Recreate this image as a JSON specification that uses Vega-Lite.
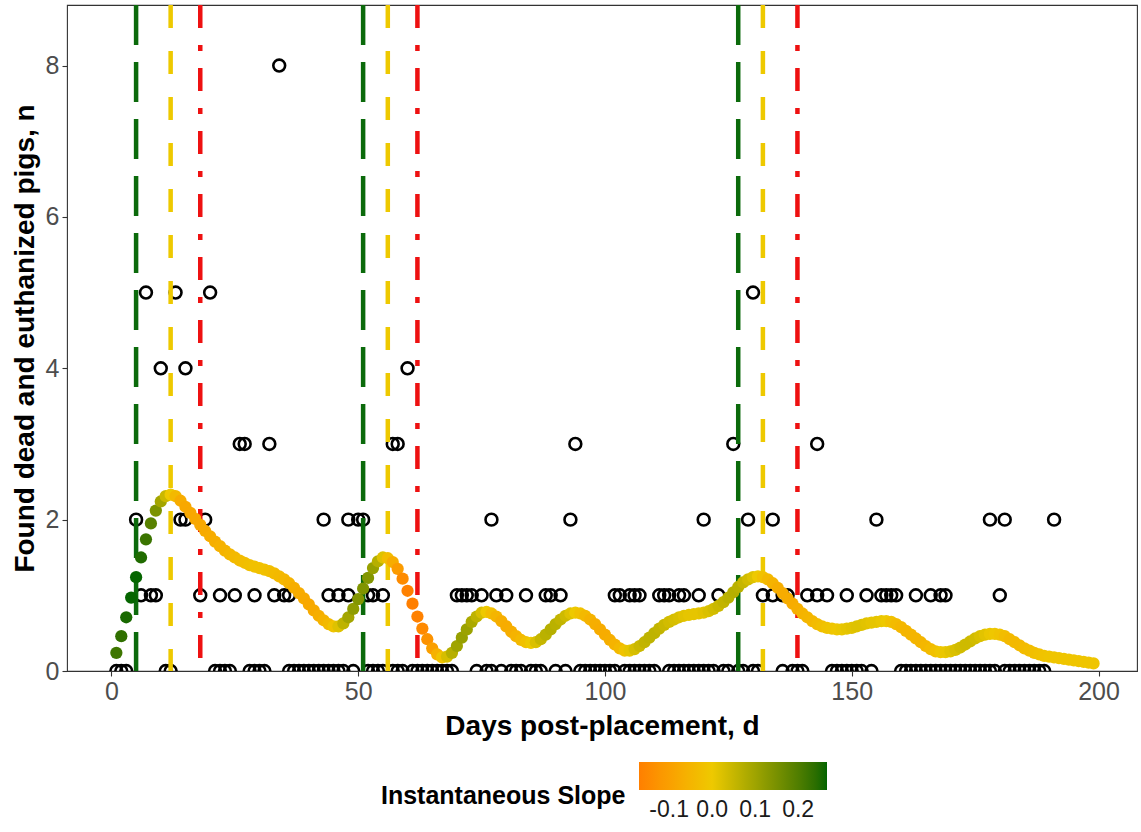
{
  "$schema": "https://vega.github.io/schema/vega-lite/v6.json",
  "width": 1070,
  "height": 666,
  "autosize": {"type": "none"},
  "padding": {"left": 67, "top": 5, "right": 4, "bottom": 161},
  "background": "white",
  "config": {
    "view": {"stroke": "#333333", "strokeWidth": 1.1},
    "font": "Liberation Sans",
    "axis": {
      "grid": false,
      "domain": false,
      "tickColor": "#333333",
      "tickSize": 5,
      "tickWidth": 1.1,
      "labelFont": "Liberation Sans",
      "labelFontSize": 25,
      "labelColor": "#4D4D4D",
      "labelPadding": 3,
      "titleFont": "Liberation Sans",
      "titleFontSize": 28,
      "titleFontWeight": "bold",
      "titleColor": "#000000"
    }
  },
  "datasets": {
    "obs": [
      {"day": 34, "n": 8},
      {"day": 7, "n": 5}, {"day": 13, "n": 5}, {"day": 20, "n": 5}, {"day": 130, "n": 5},
      {"day": 10, "n": 4}, {"day": 15, "n": 4}, {"day": 60, "n": 4},
      {"day": 26, "n": 3}, {"day": 27, "n": 3}, {"day": 32, "n": 3}, {"day": 57, "n": 3}, {"day": 58, "n": 3}, {"day": 94, "n": 3}, {"day": 126, "n": 3}, {"day": 143, "n": 3},
      {"day": 5, "n": 2}, {"day": 14, "n": 2}, {"day": 15, "n": 2}, {"day": 19, "n": 2}, {"day": 43, "n": 2}, {"day": 48, "n": 2}, {"day": 50, "n": 2}, {"day": 51, "n": 2}, {"day": 77, "n": 2}, {"day": 93, "n": 2}, {"day": 120, "n": 2}, {"day": 129, "n": 2}, {"day": 134, "n": 2}, {"day": 155, "n": 2}, {"day": 178, "n": 2}, {"day": 181, "n": 2}, {"day": 191, "n": 2},
      {"day": 6, "n": 1}, {"day": 8, "n": 1}, {"day": 9, "n": 1}, {"day": 18, "n": 1}, {"day": 22, "n": 1}, {"day": 25, "n": 1}, {"day": 29, "n": 1}, {"day": 33, "n": 1}, {"day": 35, "n": 1}, {"day": 36, "n": 1}, {"day": 44, "n": 1}, {"day": 46, "n": 1}, {"day": 48, "n": 1}, {"day": 52, "n": 1}, {"day": 53, "n": 1}, {"day": 55, "n": 1},
      {"day": 70, "n": 1}, {"day": 71, "n": 1}, {"day": 72, "n": 1}, {"day": 73, "n": 1}, {"day": 75, "n": 1}, {"day": 78, "n": 1}, {"day": 80, "n": 1}, {"day": 84, "n": 1}, {"day": 88, "n": 1}, {"day": 89, "n": 1}, {"day": 91, "n": 1},
      {"day": 102, "n": 1}, {"day": 103, "n": 1}, {"day": 105, "n": 1}, {"day": 106, "n": 1}, {"day": 107, "n": 1}, {"day": 111, "n": 1}, {"day": 112, "n": 1}, {"day": 113, "n": 1}, {"day": 115, "n": 1}, {"day": 116, "n": 1}, {"day": 119, "n": 1}, {"day": 123, "n": 1},
      {"day": 132, "n": 1}, {"day": 134, "n": 1}, {"day": 136, "n": 1}, {"day": 137, "n": 1}, {"day": 141, "n": 1}, {"day": 143, "n": 1}, {"day": 145, "n": 1}, {"day": 149, "n": 1}, {"day": 153, "n": 1}, {"day": 156, "n": 1}, {"day": 157, "n": 1}, {"day": 158, "n": 1}, {"day": 159, "n": 1}, {"day": 163, "n": 1}, {"day": 166, "n": 1}, {"day": 168, "n": 1}, {"day": 169, "n": 1}, {"day": 180, "n": 1},
      {"day": 1, "n": 0}, {"day": 2, "n": 0}, {"day": 3, "n": 0}, {"day": 11, "n": 0}, {"day": 12, "n": 0}, {"day": 21, "n": 0}, {"day": 22, "n": 0}, {"day": 23, "n": 0}, {"day": 24, "n": 0}, {"day": 28, "n": 0}, {"day": 29, "n": 0}, {"day": 30, "n": 0}, {"day": 31, "n": 0},
      {"day": 36, "n": 0}, {"day": 37, "n": 0}, {"day": 38, "n": 0}, {"day": 39, "n": 0}, {"day": 40, "n": 0}, {"day": 41, "n": 0}, {"day": 42, "n": 0}, {"day": 43, "n": 0}, {"day": 44, "n": 0}, {"day": 45, "n": 0}, {"day": 46, "n": 0}, {"day": 47, "n": 0}, {"day": 49, "n": 0},
      {"day": 52, "n": 0}, {"day": 53, "n": 0}, {"day": 54, "n": 0}, {"day": 55, "n": 0}, {"day": 57, "n": 0}, {"day": 58, "n": 0}, {"day": 59, "n": 0}, {"day": 61, "n": 0}, {"day": 62, "n": 0}, {"day": 63, "n": 0}, {"day": 64, "n": 0}, {"day": 65, "n": 0}, {"day": 66, "n": 0}, {"day": 67, "n": 0}, {"day": 68, "n": 0}, {"day": 69, "n": 0},
      {"day": 74, "n": 0}, {"day": 76, "n": 0}, {"day": 77, "n": 0}, {"day": 79, "n": 0}, {"day": 81, "n": 0}, {"day": 82, "n": 0}, {"day": 83, "n": 0}, {"day": 85, "n": 0}, {"day": 86, "n": 0}, {"day": 87, "n": 0}, {"day": 90, "n": 0}, {"day": 92, "n": 0}, {"day": 95, "n": 0}, {"day": 96, "n": 0}, {"day": 97, "n": 0}, {"day": 98, "n": 0}, {"day": 99, "n": 0}, {"day": 100, "n": 0}, {"day": 101, "n": 0},
      {"day": 102, "n": 0}, {"day": 104, "n": 0}, {"day": 105, "n": 0}, {"day": 106, "n": 0}, {"day": 107, "n": 0}, {"day": 108, "n": 0}, {"day": 109, "n": 0}, {"day": 110, "n": 0}, {"day": 113, "n": 0}, {"day": 114, "n": 0}, {"day": 115, "n": 0}, {"day": 116, "n": 0}, {"day": 117, "n": 0}, {"day": 118, "n": 0}, {"day": 119, "n": 0}, {"day": 120, "n": 0}, {"day": 121, "n": 0}, {"day": 122, "n": 0}, {"day": 124, "n": 0}, {"day": 125, "n": 0}, {"day": 127, "n": 0}, {"day": 128, "n": 0}, {"day": 130, "n": 0}, {"day": 131, "n": 0},
      {"day": 136, "n": 0}, {"day": 138, "n": 0}, {"day": 139, "n": 0}, {"day": 140, "n": 0}, {"day": 146, "n": 0}, {"day": 147, "n": 0}, {"day": 148, "n": 0}, {"day": 149, "n": 0}, {"day": 150, "n": 0}, {"day": 151, "n": 0}, {"day": 152, "n": 0}, {"day": 154, "n": 0},
      {"day": 160, "n": 0}, {"day": 161, "n": 0}, {"day": 162, "n": 0}, {"day": 163, "n": 0}, {"day": 164, "n": 0}, {"day": 165, "n": 0}, {"day": 166, "n": 0}, {"day": 167, "n": 0}, {"day": 168, "n": 0}, {"day": 169, "n": 0}, {"day": 170, "n": 0}, {"day": 171, "n": 0}, {"day": 172, "n": 0}, {"day": 173, "n": 0}, {"day": 174, "n": 0}, {"day": 175, "n": 0}, {"day": 176, "n": 0}, {"day": 177, "n": 0}, {"day": 178, "n": 0}, {"day": 179, "n": 0},
      {"day": 181, "n": 0}, {"day": 182, "n": 0}, {"day": 183, "n": 0}, {"day": 184, "n": 0}, {"day": 185, "n": 0}, {"day": 186, "n": 0}, {"day": 187, "n": 0}, {"day": 188, "n": 0}, {"day": 189, "n": 0}
    ],
    "events": [
      {"day": 5, "event": "onset"}, {"day": 51, "event": "onset"}, {"day": 127, "event": "onset"},
      {"day": 12, "event": "peak"}, {"day": 56, "event": "peak"}, {"day": 132, "event": "peak"},
      {"day": 18, "event": "end"}, {"day": 62, "event": "end"}, {"day": 139, "event": "end"}
    ],
    "fit": [
      {"day": 1, "fit": 0.24, "slope": 0.22}, {"day": 2, "fit": 0.46, "slope": 0.235}, {"day": 3, "fit": 0.71, "slope": 0.255}, {"day": 4, "fit": 0.97, "slope": 0.265}, {"day": 5, "fit": 1.24, "slope": 0.265},
      {"day": 6, "fit": 1.50, "slope": 0.25}, {"day": 7, "fit": 1.74, "slope": 0.225}, {"day": 8, "fit": 1.95, "slope": 0.19}, {"day": 9, "fit": 2.12, "slope": 0.145}, {"day": 10, "fit": 2.24, "slope": 0.095},
      {"day": 11, "fit": 2.31, "slope": 0.045}, {"day": 12, "fit": 2.33, "slope": 0.0}, {"day": 13, "fit": 2.31, "slope": -0.04}, {"day": 14, "fit": 2.25, "slope": -0.07}, {"day": 15, "fit": 2.17, "slope": -0.08},
      {"day": 16, "fit": 2.09, "slope": -0.08}, {"day": 17, "fit": 2.01, "slope": -0.08}, {"day": 18, "fit": 1.93, "slope": -0.08}, {"day": 19, "fit": 1.85, "slope": -0.075}, {"day": 20, "fit": 1.78, "slope": -0.07},
      {"day": 21, "fit": 1.71, "slope": -0.065}, {"day": 22, "fit": 1.65, "slope": -0.06}, {"day": 23, "fit": 1.59, "slope": -0.055}, {"day": 24, "fit": 1.54, "slope": -0.045}, {"day": 25, "fit": 1.50, "slope": -0.04},
      {"day": 26, "fit": 1.46, "slope": -0.035}, {"day": 27, "fit": 1.43, "slope": -0.03}, {"day": 28, "fit": 1.40, "slope": -0.025}, {"day": 29, "fit": 1.38, "slope": -0.02}, {"day": 30, "fit": 1.36, "slope": -0.02},
      {"day": 31, "fit": 1.34, "slope": -0.02}, {"day": 32, "fit": 1.32, "slope": -0.025}, {"day": 33, "fit": 1.29, "slope": -0.035}, {"day": 34, "fit": 1.25, "slope": -0.04}, {"day": 35, "fit": 1.21, "slope": -0.045},
      {"day": 36, "fit": 1.16, "slope": -0.055}, {"day": 37, "fit": 1.10, "slope": -0.065}, {"day": 38, "fit": 1.03, "slope": -0.07}, {"day": 39, "fit": 0.96, "slope": -0.075}, {"day": 40, "fit": 0.88, "slope": -0.08},
      {"day": 41, "fit": 0.80, "slope": -0.075}, {"day": 42, "fit": 0.73, "slope": -0.065}, {"day": 43, "fit": 0.67, "slope": -0.055}, {"day": 44, "fit": 0.62, "slope": -0.04}, {"day": 45, "fit": 0.59, "slope": -0.015},
      {"day": 46, "fit": 0.59, "slope": 0.02}, {"day": 47, "fit": 0.63, "slope": 0.06}, {"day": 48, "fit": 0.71, "slope": 0.095}, {"day": 49, "fit": 0.82, "slope": 0.12}, {"day": 50, "fit": 0.95, "slope": 0.135},
      {"day": 51, "fit": 1.09, "slope": 0.14}, {"day": 52, "fit": 1.23, "slope": 0.135}, {"day": 53, "fit": 1.36, "slope": 0.11}, {"day": 54, "fit": 1.45, "slope": 0.07}, {"day": 55, "fit": 1.50, "slope": 0.02},
      {"day": 56, "fit": 1.49, "slope": -0.03}, {"day": 57, "fit": 1.44, "slope": -0.07}, {"day": 58, "fit": 1.35, "slope": -0.11}, {"day": 59, "fit": 1.22, "slope": -0.145}, {"day": 60, "fit": 1.06, "slope": -0.165},
      {"day": 61, "fit": 0.89, "slope": -0.17}, {"day": 62, "fit": 0.72, "slope": -0.165}, {"day": 63, "fit": 0.56, "slope": -0.15}, {"day": 64, "fit": 0.42, "slope": -0.13}, {"day": 65, "fit": 0.30, "slope": -0.10},
      {"day": 66, "fit": 0.22, "slope": -0.06}, {"day": 67, "fit": 0.18, "slope": -0.015}, {"day": 68, "fit": 0.19, "slope": 0.03}, {"day": 69, "fit": 0.24, "slope": 0.07}, {"day": 70, "fit": 0.33, "slope": 0.10},
      {"day": 71, "fit": 0.44, "slope": 0.11}, {"day": 72, "fit": 0.55, "slope": 0.105}, {"day": 73, "fit": 0.65, "slope": 0.085}, {"day": 74, "fit": 0.72, "slope": 0.06}, {"day": 75, "fit": 0.77, "slope": 0.03},
      {"day": 76, "fit": 0.78, "slope": 0.0}, {"day": 77, "fit": 0.76, "slope": -0.03}, {"day": 78, "fit": 0.72, "slope": -0.05}, {"day": 79, "fit": 0.66, "slope": -0.065}, {"day": 80, "fit": 0.59, "slope": -0.07},
      {"day": 81, "fit": 0.52, "slope": -0.065}, {"day": 82, "fit": 0.46, "slope": -0.055}, {"day": 83, "fit": 0.41, "slope": -0.04}, {"day": 84, "fit": 0.38, "slope": -0.02}, {"day": 85, "fit": 0.37, "slope": 0.0},
      {"day": 86, "fit": 0.38, "slope": 0.025}, {"day": 87, "fit": 0.42, "slope": 0.05}, {"day": 88, "fit": 0.48, "slope": 0.065}, {"day": 89, "fit": 0.55, "slope": 0.07}, {"day": 90, "fit": 0.62, "slope": 0.065},
      {"day": 91, "fit": 0.68, "slope": 0.055}, {"day": 92, "fit": 0.73, "slope": 0.04}, {"day": 93, "fit": 0.76, "slope": 0.02}, {"day": 94, "fit": 0.77, "slope": 0.0}, {"day": 95, "fit": 0.76, "slope": -0.02},
      {"day": 96, "fit": 0.73, "slope": -0.04}, {"day": 97, "fit": 0.68, "slope": -0.055}, {"day": 98, "fit": 0.62, "slope": -0.065}, {"day": 99, "fit": 0.55, "slope": -0.07}, {"day": 100, "fit": 0.48, "slope": -0.07},
      {"day": 101, "fit": 0.41, "slope": -0.065}, {"day": 102, "fit": 0.35, "slope": -0.055}, {"day": 103, "fit": 0.30, "slope": -0.04}, {"day": 104, "fit": 0.27, "slope": -0.015}, {"day": 105, "fit": 0.27, "slope": 0.01},
      {"day": 106, "fit": 0.29, "slope": 0.03}, {"day": 107, "fit": 0.33, "slope": 0.045}, {"day": 108, "fit": 0.38, "slope": 0.055}, {"day": 109, "fit": 0.44, "slope": 0.06}, {"day": 110, "fit": 0.50, "slope": 0.06},
      {"day": 111, "fit": 0.56, "slope": 0.055}, {"day": 112, "fit": 0.61, "slope": 0.045}, {"day": 113, "fit": 0.65, "slope": 0.035}, {"day": 114, "fit": 0.68, "slope": 0.03}, {"day": 115, "fit": 0.71, "slope": 0.025},
      {"day": 116, "fit": 0.73, "slope": 0.015}, {"day": 117, "fit": 0.74, "slope": 0.01}, {"day": 118, "fit": 0.75, "slope": 0.01}, {"day": 119, "fit": 0.76, "slope": 0.01}, {"day": 120, "fit": 0.77, "slope": 0.015},
      {"day": 121, "fit": 0.79, "slope": 0.025}, {"day": 122, "fit": 0.82, "slope": 0.035}, {"day": 123, "fit": 0.86, "slope": 0.045}, {"day": 124, "fit": 0.91, "slope": 0.055}, {"day": 125, "fit": 0.97, "slope": 0.065},
      {"day": 126, "fit": 1.04, "slope": 0.07}, {"day": 127, "fit": 1.11, "slope": 0.065}, {"day": 128, "fit": 1.17, "slope": 0.05}, {"day": 129, "fit": 1.21, "slope": 0.035}, {"day": 130, "fit": 1.24, "slope": 0.02},
      {"day": 131, "fit": 1.25, "slope": 0.0}, {"day": 132, "fit": 1.24, "slope": -0.02}, {"day": 133, "fit": 1.21, "slope": -0.04}, {"day": 134, "fit": 1.16, "slope": -0.055}, {"day": 135, "fit": 1.10, "slope": -0.065},
      {"day": 136, "fit": 1.03, "slope": -0.07}, {"day": 137, "fit": 0.96, "slope": -0.07}, {"day": 138, "fit": 0.89, "slope": -0.07}, {"day": 139, "fit": 0.82, "slope": -0.065}, {"day": 140, "fit": 0.76, "slope": -0.055},
      {"day": 141, "fit": 0.71, "slope": -0.05}, {"day": 142, "fit": 0.66, "slope": -0.045}, {"day": 143, "fit": 0.62, "slope": -0.035}, {"day": 144, "fit": 0.59, "slope": -0.025}, {"day": 145, "fit": 0.57, "slope": -0.015},
      {"day": 146, "fit": 0.56, "slope": -0.01}, {"day": 147, "fit": 0.55, "slope": -0.005}, {"day": 148, "fit": 0.55, "slope": 0.005}, {"day": 149, "fit": 0.56, "slope": 0.01}, {"day": 150, "fit": 0.57, "slope": 0.015},
      {"day": 151, "fit": 0.59, "slope": 0.02}, {"day": 152, "fit": 0.61, "slope": 0.02}, {"day": 153, "fit": 0.63, "slope": 0.015}, {"day": 154, "fit": 0.64, "slope": 0.01}, {"day": 155, "fit": 0.65, "slope": 0.01},
      {"day": 156, "fit": 0.66, "slope": 0.005}, {"day": 157, "fit": 0.66, "slope": 0.0}, {"day": 158, "fit": 0.65, "slope": -0.02}, {"day": 159, "fit": 0.62, "slope": -0.035}, {"day": 160, "fit": 0.58, "slope": -0.045},
      {"day": 161, "fit": 0.53, "slope": -0.05}, {"day": 162, "fit": 0.48, "slope": -0.05}, {"day": 163, "fit": 0.43, "slope": -0.05}, {"day": 164, "fit": 0.38, "slope": -0.05}, {"day": 165, "fit": 0.33, "slope": -0.045},
      {"day": 166, "fit": 0.29, "slope": -0.035}, {"day": 167, "fit": 0.26, "slope": -0.02}, {"day": 168, "fit": 0.25, "slope": -0.005}, {"day": 169, "fit": 0.25, "slope": 0.005}, {"day": 170, "fit": 0.26, "slope": 0.015},
      {"day": 171, "fit": 0.28, "slope": 0.025}, {"day": 172, "fit": 0.31, "slope": 0.035}, {"day": 173, "fit": 0.35, "slope": 0.04}, {"day": 174, "fit": 0.39, "slope": 0.04}, {"day": 175, "fit": 0.43, "slope": 0.035},
      {"day": 176, "fit": 0.46, "slope": 0.025}, {"day": 177, "fit": 0.48, "slope": 0.015}, {"day": 178, "fit": 0.49, "slope": 0.005}, {"day": 179, "fit": 0.49, "slope": -0.005}, {"day": 180, "fit": 0.48, "slope": -0.015},
      {"day": 181, "fit": 0.46, "slope": -0.03}, {"day": 182, "fit": 0.42, "slope": -0.04}, {"day": 183, "fit": 0.38, "slope": -0.04}, {"day": 184, "fit": 0.34, "slope": -0.04}, {"day": 185, "fit": 0.30, "slope": -0.035},
      {"day": 186, "fit": 0.27, "slope": -0.03}, {"day": 187, "fit": 0.24, "slope": -0.025}, {"day": 188, "fit": 0.22, "slope": -0.02}, {"day": 189, "fit": 0.20, "slope": -0.015}, {"day": 190, "fit": 0.19, "slope": -0.01},
      {"day": 191, "fit": 0.18, "slope": -0.01}, {"day": 192, "fit": 0.17, "slope": -0.01}, {"day": 193, "fit": 0.16, "slope": -0.01}, {"day": 194, "fit": 0.15, "slope": -0.01}, {"day": 195, "fit": 0.14, "slope": -0.01},
      {"day": 196, "fit": 0.13, "slope": -0.01}, {"day": 197, "fit": 0.12, "slope": -0.01}, {"day": 198, "fit": 0.11, "slope": -0.01}, {"day": 199, "fit": 0.10, "slope": -0.01}
    ]
  },
  "encoding": {
    "x": {
      "field": "day",
      "type": "quantitative",
      "scale": {"domain": [-9, 207.8], "nice": false, "zero": false},
      "axis": {"values": [0, 50, 100, 150, 200], "format": "d", "title": "Days post-placement, d", "titlePadding": 8}
    }
  },
  "layer": [
    {
      "data": {"name": "obs"},
      "mark": {"type": "point", "shape": "circle", "filled": false, "stroke": "#000000", "strokeWidth": 2.6, "size": 140, "opacity": 1, "clip": true},
      "encoding": {
        "y": {
          "field": "n",
          "type": "quantitative",
          "scale": {"domain": [0, 8.8], "nice": false, "zero": false},
          "axis": {"values": [0, 2, 4, 6, 8], "format": "d", "title": "Found dead and euthanized pigs, n", "titlePadding": 6}
        }
      }
    },
    {
      "data": {"name": "events"},
      "transform": [{"filter": "datum.event == 'onset'"}],
      "mark": {"type": "rule", "stroke": "#0B6A0B", "strokeWidth": 4.5, "strokeDash": [40, 17]},
      "encoding": {}
    },
    {
      "data": {"name": "events"},
      "transform": [{"filter": "datum.event == 'peak'"}],
      "mark": {"type": "rule", "stroke": "#EEC900", "strokeWidth": 4.5, "strokeDash": [23, 23]},
      "encoding": {}
    },
    {
      "data": {"name": "events"},
      "transform": [{"filter": "datum.event == 'end'"}],
      "mark": {"type": "rule", "stroke": "#EE1111", "strokeWidth": 4.5, "strokeDash": [23, 17, 6, 17]},
      "encoding": {}
    },
    {
      "data": {"name": "fit"},
      "mark": {"type": "circle", "size": 150, "opacity": 1, "clip": true},
      "encoding": {
        "y": {"field": "fit", "type": "quantitative"},
        "color": {
          "field": "slope",
          "type": "quantitative",
          "scale": {"domain": [-0.17, 0, 0.267], "range": ["#FF7F00", "#EEC900", "#006400"], "interpolate": "lab"},
          "legend": {
            "title": ["", "Instantaneous Slope"],
            "orient": "none",
            "legendX": 314,
            "legendY": 757,
            "direction": "horizontal",
            "titleOrient": "left",
            "titleFont": "Liberation Sans",
            "titleFontSize": 25,
            "titleFontWeight": "bold",
            "titleColor": "#000000",
            "titleLineHeight": 40,
            "titlePadding": 13,
            "titleLimit": 400,
            "gradientLength": 188,
            "gradientThickness": 28,
            "gradientStrokeWidth": 0,
            "values": [-0.1, 0, 0.1, 0.2],
            "labelExpr": "datum.value < 0 ? '-' + format(-datum.value, '.1f') : format(datum.value, '.1f')",
            "labelFont": "Liberation Sans",
            "labelFontSize": 23,
            "labelColor": "#1A1A1A",
            "labelOffset": 9
          }
        }
      }
    }
  ]
}
